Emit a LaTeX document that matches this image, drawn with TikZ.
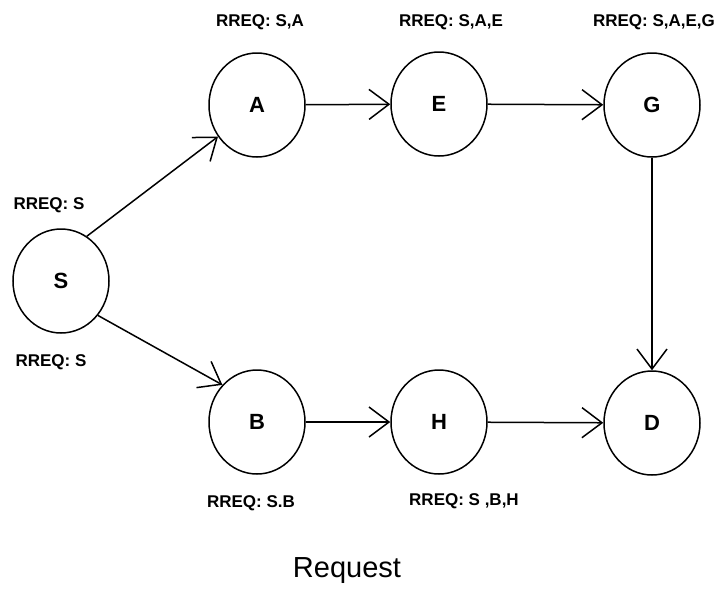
\documentclass[tikz,border=0pt]{standalone}
\usepackage{fontspec}
\setmainfont{Liberation Sans}
\usetikzlibrary{shapes.geometric,arrows.meta}
\begin{document}
\begin{tikzpicture}[x=1pt,y=-1pt,
  station/.style={draw, ellipse, line width=1.5pt, minimum width=96pt, minimum height=104pt,
    inner sep=0pt, font=\fontsize{22}{22}\selectfont\bfseries},
  hop/.style={draw, line width=1.5pt,
    -{Straight Barb[length=20pt,width=30pt,line width=1.5pt]}},
  rreq/.style={font=\fontsize{17}{17}\selectfont\bfseries},
  caption/.style={font=\fontsize{29}{29}\selectfont}]
\useasboundingbox (0,0) rectangle (724,590);

% stations
\node[station] (S) at (61,281) {S};
\node[station] (A) at (257,105) {A};
\node[station] (E) at (439,104) {E};
\node[station] (G) at (652,105) {G};
\node[station] (B) at (257,422) {B};
\node[station] (H) at (439,422) {H};
\node[station] (D) at (652,423) {D};

% route request propagation
\draw[hop] (S.60) -- (A.219);
\draw[hop] (A) -- (E);
\draw[hop] (E) -- (G);
\draw[hop] (G) -- (D);
\draw[hop] (S.-43) -- (B.133);
\draw[hop] (B) -- (H);
\draw[hop] (H) -- (D);

% accumulated route records
\node[rreq] (lA) at (260,22) {RREQ: S,A};
\node[rreq] (lE) at (451,22) {RREQ: S,A,E};
\node[rreq] (lG) at (654,22) {RREQ: S,A,E,G};
\node[rreq] (lS1) at (49,205) {RREQ: S};
\node[rreq] (lS2) at (51,362) {RREQ: S};
\node[rreq] (lB) at (251,503) {RREQ: S.B};
\node[rreq] (lH) at (464,501) {RREQ: S ,B,H};

\node[caption] (title) at (347,571) {Request};
\end{tikzpicture}
\end{document}
